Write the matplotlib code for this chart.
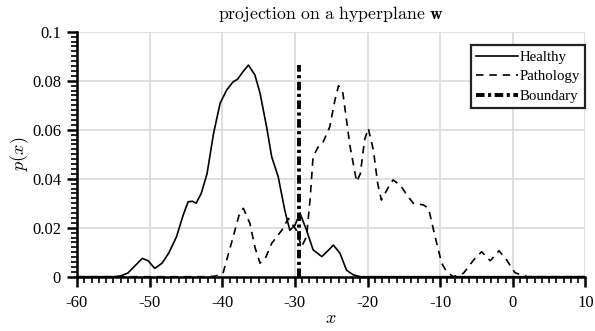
import numpy as np
import matplotlib
matplotlib.use('Agg')
import matplotlib.pyplot as plt
from matplotlib.ticker import MultipleLocator, FormatStrFormatter

plt.rcParams['font.family'] = ['Liberation Serif', 'DejaVu Serif']
plt.rcParams['mathtext.fontset'] = 'cm'
plt.rcParams['axes.unicode_minus'] = False

# values
healthy_x = [-60, -55, -54, -53, -52, -51, -50.2, -49.3, -48.3, -47.4, -46.3, -45.4,
             -44.7, -44.1, -43.6, -42.9, -42.1, -41.2, -40.3, -39.4, -38.5, -37.9,
             -37.2, -36.4, -35.5, -34.8, -33.9, -33.2, -32.3, -31.4, -30.7, -30.0,
             -29.3, -28.4, -27.5, -26.3, -25.5, -24.7, -23.8, -22.9, -22.0, -21.0,
             -20, 10]
healthy_y = [0, 0, 0.0003, 0.0015, 0.0045, 0.0075, 0.0065, 0.0034, 0.0055, 0.0095,
             0.0163, 0.025, 0.0306, 0.0308, 0.030, 0.034, 0.042, 0.0585, 0.0708,
             0.0762, 0.0796, 0.0806, 0.0835, 0.0864, 0.0823, 0.0749, 0.0612, 0.049,
             0.0408, 0.0272, 0.019, 0.021, 0.0259, 0.019, 0.011, 0.0082, 0.0105,
             0.0129, 0.0096, 0.0027, 0.0008, 0, 0, 0]

patho_x = [-60, -42, -41, -39.9, -38.5, -37.7, -37.1, -36.2, -35.5, -34.8, -34.0,
           -33.2, -31.8, -30.9, -29.8, -29.1, -28.4, -27.9, -27.5, -26.8, -26.1,
           -25.2, -24.5, -24.0, -23.4, -22.4, -21.5, -21.0, -20.4, -19.9, -19.2,
           -18.6, -18.1, -17.1, -16.5, -15.5, -14.5, -13.7, -12.3, -11.6, -10.7,
           -9.8, -9.1, -8.2, -6.8, -5.4, -4.3, -3.1, -1.9, -0.85, 0.3, 2, 10]
patho_y = [0, 0, 0.0002, 0.0014, 0.0163, 0.025, 0.0279, 0.0218, 0.012, 0.0055,
           0.008, 0.0136, 0.019, 0.0238, 0.019, 0.0122, 0.0163, 0.032, 0.049, 0.053,
           0.0551, 0.0612, 0.072, 0.078, 0.075, 0.053, 0.0388, 0.042, 0.056, 0.0606,
           0.0517, 0.038, 0.0313, 0.0367, 0.0395, 0.0374, 0.033, 0.030, 0.0293,
           0.0279, 0.0163, 0.0055, 0.002, 0, 0.0014, 0.0068, 0.0102, 0.0065, 0.0106,
           0.0068, 0.0016, 0, 0]

boundary_x = [-29.5, -29.5]
boundary_y = [0, 0.0865]

fig = plt.figure(figsize=(5.95, 3.31), dpi=100)
ax = fig.add_axes([0.1294, 0.164, 0.8546, 0.740])

ax.plot(healthy_x, healthy_y, color='black', lw=1.2, label='Healthy')
ax.plot(patho_x, patho_y, color='black', lw=1.2, ls=(0, (4.5, 3.5)), label='Pathology')
ax.plot(boundary_x, boundary_y, color='black', lw=2.8, ls=(0, (2.2, 0.9, 0.8, 0.9)),
        label='Boundary')

ax.set_xlim(-60, 10)
ax.set_ylim(0, 0.1)
ax.xaxis.set_major_locator(MultipleLocator(10))
ax.xaxis.set_minor_locator(MultipleLocator(1))
ax.yaxis.set_major_locator(MultipleLocator(0.02))
ax.yaxis.set_minor_locator(MultipleLocator(0.002))
ax.yaxis.set_major_formatter(FormatStrFormatter('%g'))
ax.xaxis.set_major_formatter(FormatStrFormatter('%g'))

ax.grid(True, which='major', color='#d9d9d9', lw=1.2)
ax.set_axisbelow(True)
for s in ['top', 'right']:
    ax.spines[s].set_visible(False)
for s in ['left', 'bottom']:
    ax.spines[s].set_linewidth(1.8)
ax.tick_params(which='major', direction='out', length=7.5, width=1.8, labelsize=12)
ax.tick_params(which='minor', direction='out', length=4, width=1.2)
ax.tick_params(axis='x', which='major', pad=6)
ax.tick_params(axis='y', which='major', pad=4)

ax.set_xlabel('$x$', fontsize=13, labelpad=-1)
ax.set_ylabel('$p(x)$', fontsize=13, labelpad=1)
ax.set_title(r'$\mathrm{projection\ on\ a\ hyperplane}\ \mathbf{w}$', fontsize=12.8, pad=9)

leg = ax.legend(loc='upper right', fontsize=10.7, fancybox=False, framealpha=1,
                handlelength=2.8, handletextpad=0.15, borderpad=0.35, labelspacing=0.42,
                borderaxespad=0.0, bbox_to_anchor=(1.0, 0.945))
leg.get_frame().set_edgecolor('#222222')
leg.get_frame().set_linewidth(1.6)

fig.savefig('out.png', dpi=100)
